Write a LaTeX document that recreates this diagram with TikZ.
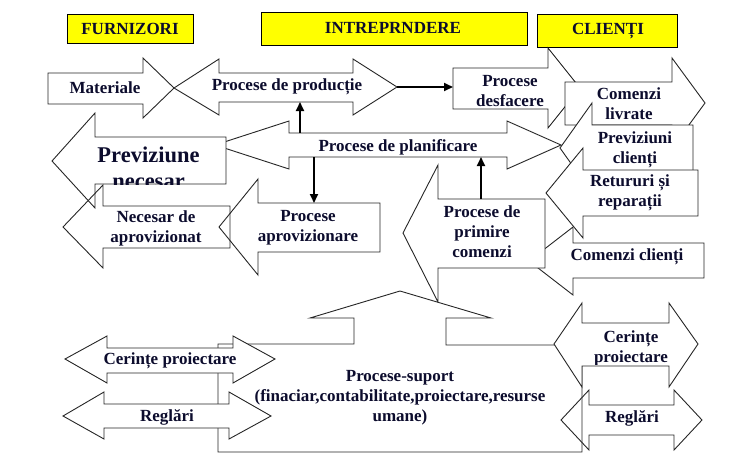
\documentclass[tikz,border=0pt]{standalone}
\usepackage{fontspec}
\setmainfont{Liberation Serif}
\usetikzlibrary{arrows.meta}
\definecolor{hdryellow}{RGB}{255,255,0}
\definecolor{inkblue}{RGB}{12,12,45}
\tikzset{
  blk/.style={draw=black!85,line width=0.9pt,fill=white,line join=miter},
  blkopen/.style={draw=black!85,line width=0.9pt,line join=miter},
  hdr/.style={draw=black,line width=0.9pt,fill=hdryellow},
  lbl/.style={text=inkblue,font=\bfseries\fontsize{17}{20}\selectfont,align=center,inner sep=0pt},
  biglbl/.style={lbl,font=\bfseries\fontsize{22.5}{26}\selectfont},
  link/.style={line width=1.8pt,-{Triangle[length=9pt,width=8pt]}}
}
\begin{document}
\begin{tikzpicture}[x=1pt,y=-1pt]
\useasboundingbox (0,0) rectangle (737,467);
\draw[hdr] (67,14) rectangle (193,43);
\draw[hdr] (261,12) rectangle (527,45);
\draw[hdr] (537,14) rectangle (677,47);
\node[lbl] (furn) at (130,29) {FURNIZORI};
\node[lbl] (intr) at (393,28) {INTREPRNDERE};
\node[lbl] (cli) at (608,31) {CLIENȚI};
\draw[blk] (48,73) -- (143,73) -- (143,58) -- (174,88) -- (143,118) -- (143,104) -- (48,104) -- cycle;
\draw[blk] (174,88) -- (219,59) -- (219,73) -- (353,73) -- (353,59) -- (397,87) -- (353,115) -- (353,102) -- (219,102) -- (219,115) -- cycle;
\draw[blk] (453,68) -- (548,68) -- (548,48) -- (580,88) -- (548,128) -- (548,109) -- (453,109) -- cycle;
\draw[blk] (565,82) -- (672,82) -- (672,58) -- (705,103) -- (672,148) -- (672,125) -- (565,125) -- cycle;
\draw[blk] (215,145) -- (289,121) -- (289,133) -- (507,133) -- (507,121) -- (561,145) -- (507,169) -- (507,157) -- (289,157) -- (289,169) -- cycle;
\draw[blk] (52,161) -- (95,113) -- (95,137) -- (226,137) -- (226,184) -- (95,184) -- (95,208) -- cycle;
\draw[blk] (560,148) -- (592,103) -- (592,125) -- (693,125) -- (693,171) -- (592,171) -- (592,193) -- cycle;
\draw[blk] (529,261) -- (573,227) -- (573,243) -- (704,243) -- (704,278) -- (573,278) -- (573,295) -- cycle;
\draw[blk] (546,193) -- (583,148) -- (583,170) -- (698,170) -- (698,216) -- (583,216) -- (583,238) -- cycle;
\draw[blk] (403,233) -- (438,165) -- (438,199) -- (545,199) -- (545,268) -- (438,268) -- (438,302) -- cycle;
\draw[blk] (219,227) -- (258,179) -- (258,203) -- (380,203) -- (380,252) -- (258,252) -- (258,275) -- cycle;
\draw[blkopen] (63,227) -- (103,185) -- (103,206) -- (230,206) -- (230,248) -- (103,248) -- (103,268) -- cycle;
\draw[blk] (400,291) -- (491,318) -- (446,318) -- (446,345) -- (582,345) -- (582,452) -- (218,452) -- (218,344) -- (354,344) -- (354,318) -- (310,318) -- cycle;
\draw[blk] (65,359) -- (107,336) -- (107,348) -- (233,348) -- (233,336) -- (275,359) -- (233,383) -- (233,373) -- (107,373) -- (107,383) -- cycle;
\draw[blk] (63,416) -- (104,392) -- (104,404) -- (229,404) -- (229,392) -- (271,416) -- (229,439) -- (229,428) -- (104,428) -- (104,439) -- cycle;
\draw[blk] (554,344) -- (582,303) -- (582,323) -- (669,323) -- (669,303) -- (698,344) -- (669,387) -- (669,366) -- (582,366) -- (582,387) -- cycle;
\draw[blkopen] (561,420) -- (589,390) -- (589,405) -- (674,405) -- (674,390) -- (702,420) -- (674,450) -- (674,435) -- (589,435) -- (589,450) -- cycle;
\node[lbl] (mat) at (105,88) {Materiale};
\node[lbl] (prod) at (287,87) {Procese de producție};
\node[lbl] (desf) at (510,91) {Procese\\desfacere};
\node[lbl] (livr) at (629,104) {Comenzi\\livrate};
\node[lbl] (plan) at (398,147) {Procese de planificare};
\node[lbl] (prevcl) at (635,150) {Previziuni\\clienți};
\node[lbl] (ret) at (630,193) {Retururi și\\reparații};
\node[lbl] (comcl) at (627,257) {Comenzi clienți};
\node[lbl] (prim) at (482,232) {Procese de\\primire\\comenzi};
\node[lbl] (nec) at (156,228) {Necesar de\\aprovizionat};
\node[lbl] (aprov) at (308,228) {Procese\\aprovizionare};
\node[lbl] (regl) at (167,417) {Reglări};
\node[lbl] (regr) at (632,418) {Reglări};
\node[lbl] (sup) at (400,398) {Procese-suport\\(finaciar,contabilitate,proiectare,resurse\\umane)};
\begin{scope}
\clip (40,100) rectangle (226,184);
\node[biglbl,anchor=base] (prevn) at (148.5,162) {Previziune};
\node[biglbl,anchor=base] (prevnb) at (148.5,188) {necesar};
\end{scope}
\begin{scope}
\clip (100,340) rectangle (240,369);
\node[lbl] (cerl) at (170,361) {Cerințe proiectare};
\end{scope}
\begin{scope}
\clip (585,320) rectangle (668,364);
\node[lbl] (cerr) at (631,348) {Cerințe\\proiectare};
\end{scope}
\coordinate (prodtip) at (397,87);
\coordinate (desfin) at (453,87);
\coordinate (plantop) at (300,133);
\coordinate (prodbot) at (300,102);
\coordinate (planbot) at (314,157);
\coordinate (aprovtop) at (314,203);
\coordinate (primtop) at (481,199);
\coordinate (planbotr) at (481,157);
\draw[link] (prodtip) -- (desfin);
\draw[link] (plantop) -- (prodbot);
\draw[link] (planbot) -- (aprovtop);
\draw[link] (primtop) -- (planbotr);
\end{tikzpicture}
\end{document}
